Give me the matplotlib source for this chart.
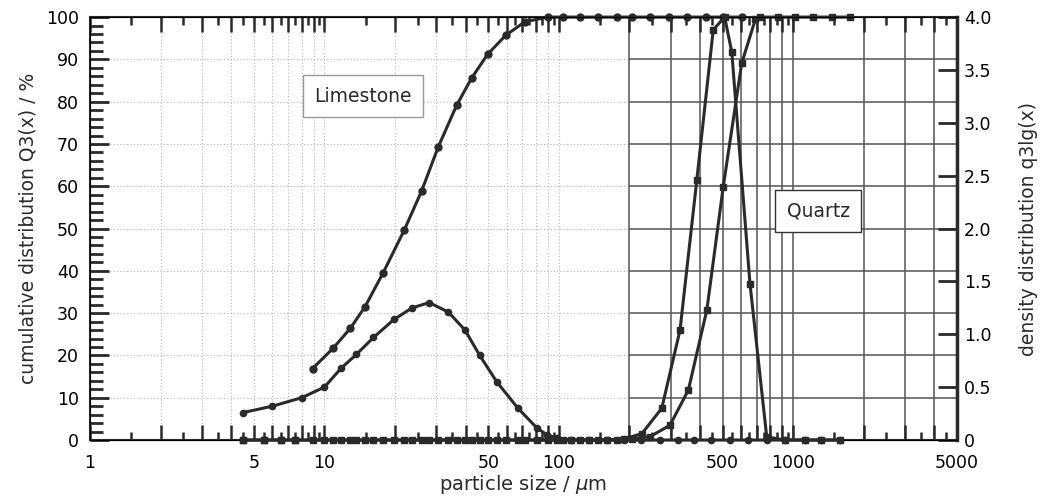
import numpy as np
import matplotlib.pyplot as plt
from matplotlib.ticker import FixedLocator, FuncFormatter, MultipleLocator

# limestone, cumulative Q3 in %
ls_cum_x = [8.9, 10.9, 12.9, 14.9, 17.8, 21.9, 26.0, 30.6, 36.7, 42.5, 49.7, 59.4, 71.7,
            90, 104, 123, 147, 177, 206, 245, 296, 352, 425, 503, 603]
ls_cum_y = [16.9, 21.7, 26.4, 31.5, 39.5, 49.6, 58.9, 69.3, 79.2, 85.6, 91.2, 95.7, 98.9,
            100, 100, 100, 100, 100, 100, 100, 100, 100, 100, 100, 100]

# limestone, density q3lg
ls_den_x = [4.5, 6, 8, 10, 11.8, 13.7, 16.2, 19.8, 23.7, 28.0, 33.8, 39.8, 46, 54.4, 67, 81, 89, 98,
            113, 134, 160, 190, 225, 269, 321, 379, 448, 536, 640, 771, 922, 1122, 1320, 1585]
ls_den_y = [0.26, 0.32, 0.40, 0.50, 0.68, 0.81, 0.97, 1.14, 1.25, 1.30, 1.21, 1.04, 0.80, 0.55, 0.30, 0.11, 0.05, 0.02,
            0, 0, 0, 0, 0, 0, 0, 0, 0, 0, 0, 0, 0, 0, 0, 0]

# quartz, cumulative Q3 in %
qz_cum_x = [4.5, 5.5, 6.5, 7.5, 8.9, 10.9, 12.9, 14.9, 17.8, 21.9, 26.0, 30.6, 36.7, 42.5, 49.7, 59.4, 71.7,
            90, 104, 123, 147, 177, 206, 245, 298, 357, 428, 503, 603, 690, 721, 864, 1018, 1219, 1459, 1747]
qz_cum_y = [0, 0, 0, 0, 0, 0, 0, 0, 0, 0, 0, 0, 0, 0, 0, 0, 0,
            0, 0, 0, 0, 0, 0.3, 0.8, 3.5, 11.8, 30.7, 59.9, 89.1, 99.5, 100, 100, 100, 100, 100, 100]

# quartz, density q3lg
qz_den_x = [4.5, 5.5, 6.5, 7.5, 10, 11.8, 13.7, 16.2, 19.8, 23.7, 28.0, 33.8, 39.8, 46, 54.4, 67, 81, 98,
            113, 134, 160, 190, 226, 275, 329, 388, 456, 510, 547, 654, 771, 922, 1122, 1320, 1585]
qz_den_y = [0, 0, 0, 0, 0, 0, 0, 0, 0, 0, 0, 0, 0, 0, 0, 0, 0, 0,
            0, 0, 0, 0.01, 0.06, 0.30, 1.04, 2.46, 3.88, 4.0, 3.67, 1.48, 0.03, 0, 0, 0, 0]

xlabels = [1, 5, 10, 50, 100, 500, 1000, 5000]
dark = '#2a2a2a'

plt.rcParams['font.family'] = ['DejaVu Sans']

fig = plt.figure(figsize=(10.51, 5.03), dpi=100)
fig.patch.set_facecolor('white')
ax = fig.add_axes([0.0856, 0.1252, 0.825, 0.8408])
ax2 = ax.twinx()

ax.set_xscale('log')
ax.set_xlim(1, 5000)
ax.set_ylim(0, 100)
ax2.set_ylim(0, 4)

# grid: faint dotted on the left part, dark solid from 200 um on (as in the scan)
gx = [m * 10**e for e in range(0, 4) for m in range(1, 10)]
gx = [g for g in gx if 1 < g < 5000]
for g in gx:
    if g < 200:
        ax.axvline(g, color='#b5b5b5', lw=0.8, ls=(0, (1, 2)), zorder=0)
    else:
        ax.axvline(g, color='#555555', lw=1.1, zorder=0)
for yv in range(10, 100, 10):
    ax.hlines(yv, 1, 200, color='#b5b5b5', lw=0.8, ls=(0, (1, 2)), zorder=0)
    ax.hlines(yv, 200, 5000, color='#555555', lw=1.1, zorder=0)

ax.plot(ls_cum_x, ls_cum_y, '-o', color=dark, lw=2.2, ms=5, clip_on=False, zorder=3)
ax.plot(qz_cum_x, qz_cum_y, '-s', color=dark, lw=2.2, ms=5, clip_on=False, zorder=3)
ax2.plot(ls_den_x, ls_den_y, '-o', color=dark, lw=2.2, ms=4.5, clip_on=False, zorder=3)
ax2.plot(qz_den_x, qz_den_y, '-s', color=dark, lw=2.2, ms=4.5, clip_on=False, zorder=3)

# x ticks
xmaj = [m * 10**e for e in range(0, 4) for m in range(1, 10)]
xmaj = [v for v in xmaj if v <= 5000]
xmin = [(m + 0.5) * 10**e for e in range(0, 4) for m in range(1, 10)]
xmin = [v for v in xmin if v < 5000]
ax.xaxis.set_major_locator(FixedLocator(xmaj))
ax.xaxis.set_minor_locator(FixedLocator(xmin))
ax.xaxis.set_major_formatter(FuncFormatter(lambda v, p: str(int(round(v))) if int(round(v)) in xlabels else ''))
ax.xaxis.set_minor_formatter(FuncFormatter(lambda v, p: ''))
ax.tick_params(axis='x', which='major', direction='in', top=True, bottom=True, length=11, width=1.8,
               color=dark, labelsize=12.5, pad=10)
ax.tick_params(axis='x', which='minor', direction='in', top=True, bottom=True, length=6, width=1.8, color=dark)

# left y ticks
ax.yaxis.set_major_locator(MultipleLocator(10))
ax.yaxis.set_minor_locator(MultipleLocator(2))
ax.tick_params(axis='y', which='major', direction='in', length=14, width=2, color=dark, labelsize=12.5, pad=8)
ax.tick_params(axis='y', which='minor', direction='in', length=9, width=2, color=dark)

# right y ticks
ax2.yaxis.set_major_locator(MultipleLocator(0.5))
ax2.yaxis.set_major_formatter(FuncFormatter(lambda v, p: '0' if v == 0 else f'{v:.1f}'))
ax2.tick_params(axis='y', direction='in', length=14, width=2, color=dark, labelsize=12.5, pad=5)

for sp in ax.spines.values():
    sp.set_color(dark)
    sp.set_linewidth(1.5)
ax2.spines['right'].set_linewidth(2.5)
ax2.spines['right'].set_color(dark)

ax.set_xlabel(r'particle size / $\mu$m', fontsize=14, color=dark, labelpad=1)
ax.set_ylabel('cumulative distribution Q3(x) / %', fontsize=13.5, color=dark, labelpad=6)
ax2.set_ylabel('density distribution q3lg(x)', fontsize=13.5, color=dark, labelpad=20)

ax.text(14.6, 81.3, 'Limestone', fontsize=13.5, color=dark, ha='center', va='center', zorder=5,
        bbox=dict(boxstyle='square,pad=0.6', fc='white', ec='#9a9a9a', lw=1))
ax.text(1276, 54.1, 'Quartz', fontsize=13.5, color=dark, ha='center', va='center', zorder=5,
        bbox=dict(boxstyle='square,pad=0.6', fc='white', ec='#333333', lw=1))

fig.savefig('out.png', dpi=100)
